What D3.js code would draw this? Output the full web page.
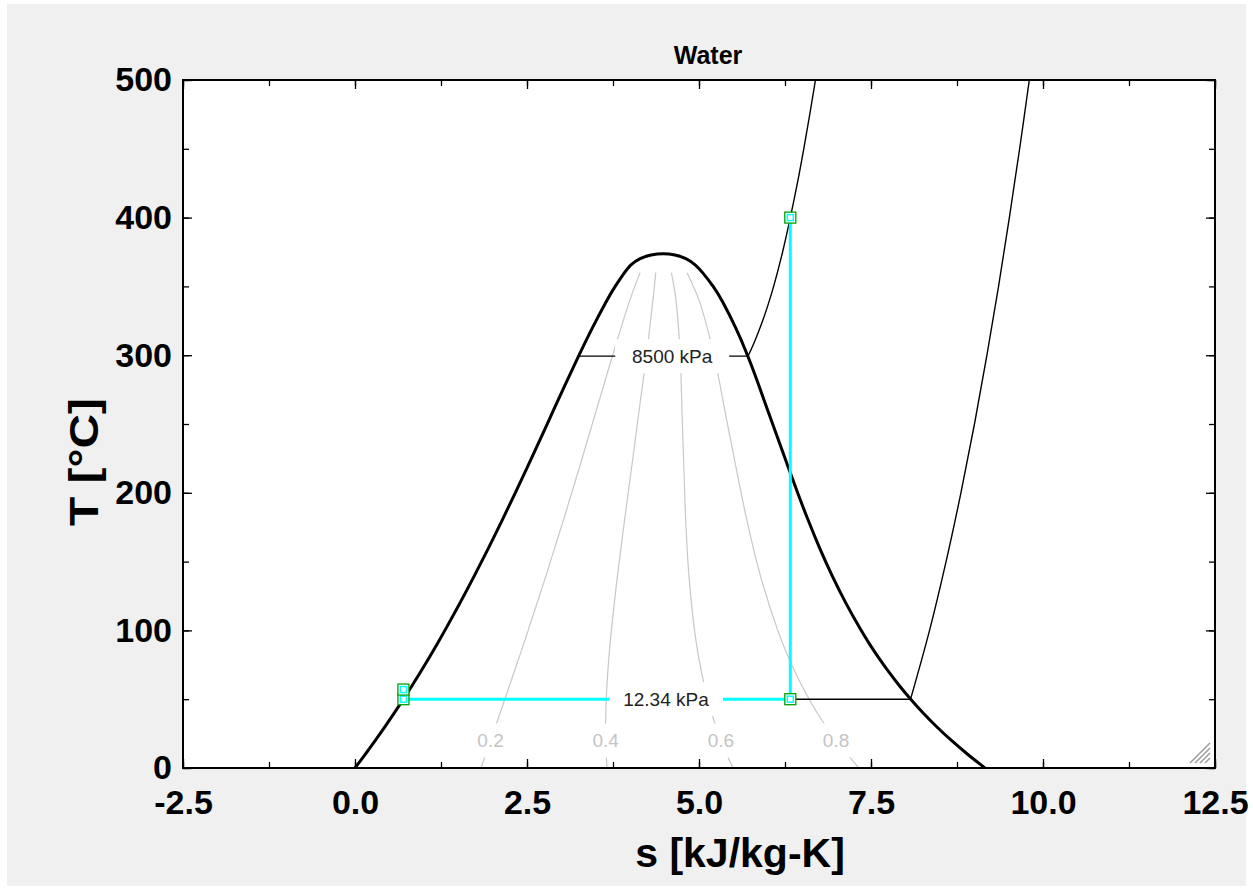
<!DOCTYPE html>
<html>
<head>
<meta charset="utf-8">
<script src="https://cdn.jsdelivr.net/npm/d3@7"></script>
<style>
  html, body { margin: 0; padding: 0; background: #fff; }
  svg { display: block; font-family: "Liberation Sans", Arial, sans-serif; }
</style>
</head>
<body>
<div id="chart"></div>
<script>
// saturation dome of water (T in C, s in kJ/kg-K)
const satT  = [0.01, 10, 20, 30, 40, 50, 60, 70, 80, 90, 100, 120, 140, 160, 180, 200, 220, 240, 260, 280, 300, 320, 340, 350, 360, 365.6, 370.6, 373.1, 373.95];
const satSf = [0, 0.1511, 0.2965, 0.4368, 0.5724, 0.7038, 0.8313, 0.9551, 1.0756, 1.1929, 1.3072, 1.5279, 1.7392, 1.9426, 2.1392, 2.3305, 2.5177, 2.7020, 2.8849, 3.0685, 3.2552, 3.4494, 3.6601, 3.7784, 3.9167, 3.997, 4.142, 4.302, 4.48];
const satSg = [9.1556, 8.8998, 8.6660, 8.4520, 8.2555, 8.0748, 7.9081, 7.7540, 7.6111, 7.4781, 7.3541, 7.1291, 6.9293, 6.7498, 6.5857, 6.4323, 6.2861, 6.1430, 5.9975, 5.8571, 5.7081, 5.5372, 5.3356, 5.2110, 5.0536, 4.956, 4.811, 4.651, 4.48];

// lines of constant quality
const qualNames = ["0.2", "0.4", "0.6", "0.8"];
const qualT  = [0.01, 20, 40, 60, 80, 100, 140, 180, 220, 260, 300, 340, 360];
const qual02 = [1.8311, 1.9704, 2.1090, 2.2467, 2.3827, 2.5166, 2.7772, 3.0285, 3.2714, 3.5074, 3.7458, 3.9952, 4.1441];
const qual04 = [3.6622, 3.6443, 3.6456, 3.6620, 3.6898, 3.7260, 3.8152, 3.9178, 4.0251, 4.1299, 4.2364, 4.3303, 4.3715];
const qual06 = [5.4934, 5.3182, 5.1823, 5.0774, 4.9969, 4.9353, 4.8533, 4.8071, 4.7787, 4.7525, 4.7269, 4.6654, 4.5988];
const qual08 = [7.3245, 6.9921, 6.7189, 6.4927, 6.3040, 6.1447, 5.8913, 5.6964, 5.5324, 5.3750, 5.2175, 5.0005, 4.8262];
const qualLabelT = 20;
const qualLabelS = [1.9704, 3.6443, 5.3182, 6.9921];

// isobars
const isobarNames = ["8500 kPa", "12.34 kPa"];
const hpS = [3.247, 5.712, 5.809, 5.925, 6.009, 6.085, 6.215, 6.327, 6.43, 6.523, 6.61, 6.693, 6.77];
const hpT = [299.3, 299.3, 310, 325, 337.5, 350, 375, 400, 425, 450, 475, 500, 525];
const lpS = [0.7038, 8.075, 8.351, 8.591, 8.807, 9.004, 9.185, 9.354, 9.511, 9.66, 9.801, 9.87];
const lpT = [50, 50, 100, 150, 200, 250, 300, 350, 400, 450, 500, 525];
const isobarLabelS = [4.61, 4.52];
const isobarLabelT = [299.3, 50];

// Rankine cycle states
const cycleS = [6.327, 6.327, 0.7038, 0.7038];
const cycleT = [400, 50, 50, 57];

const xTicks = [-2.5, 0, 2.5, 5, 7.5, 10, 12.5];
const yTicks = [0, 100, 200, 300, 400, 500];

function chart() {
    const width = 1253, height = 891;
    const left = 183, right = 1215, top = 80, bottom = 768;

    const x = d3.scaleLinear().domain([-2.5, 12.5]).range([left, right]);
    const y = d3.scaleLinear().domain([0, 500]).range([bottom, top]);

    const svg = d3.create("svg")
        .attr("width", width)
        .attr("height", height)
        .attr("viewBox", [0, 0, width, height]);

    // panel
    svg.append("rect").attr("x", 7).attr("y", 4).attr("width", 1239).attr("height", 882).attr("fill", "#f0f0f0");
    svg.append("rect").attr("x", left).attr("y", top).attr("width", right - left).attr("height", bottom - top).attr("fill", "#fff");

    svg.append("clipPath").attr("id", "plot")
        .append("rect").attr("x", left).attr("y", top).attr("width", right - left).attr("height", bottom - top);

    const g = svg.append("g").attr("clip-path", "url(#plot)");

    const line = d3.line().x(d => x(d[0])).y(d => y(d[1])).curve(d3.curveCatmullRom);
    const straight = d3.line().x(d => x(d[0])).y(d => y(d[1]));

    // quality lines
    [qual02, qual04, qual06, qual08].forEach(qs => {
        g.append("path")
            .attr("d", line(qs.map((s, i) => [s, qualT[i]])))
            .attr("fill", "none")
            .attr("stroke", "#c8c8c8")
            .attr("stroke-width", 1.2);
    });

    // isobars: straight inside the dome, curved in the superheated region
    const hp = hpS.map((s, i) => [s, hpT[i]]);
    const lp = lpS.map((s, i) => [s, lpT[i]]);
    [hp, lp].forEach(pts => {
        g.append("path")
            .attr("d", straight(pts.slice(0, 2)) + line(pts.slice(1)).replace(/^M/, "L"))
            .attr("fill", "none")
            .attr("stroke", "#000")
            .attr("stroke-width", 1.4);
    });

    // saturation dome
    const dome = satT.map((t, i) => [satSf[i], t])
        .concat(satT.slice(0, -1).map((t, i) => [satSg[i], t]).reverse());
    g.append("path")
        .attr("d", d3.line().x(d => x(d[0])).y(d => y(d[1])).curve(d3.curveBasis)(dome))
        .attr("fill", "none")
        .attr("stroke", "#000")
        .attr("stroke-width", 3)
        .attr("stroke-linejoin", "round");

    // cycle
    const cyc = cycleS.map((s, i) => [s, cycleT[i]]);
    g.append("path")
        .attr("d", straight(cyc))
        .attr("fill", "none")
        .attr("stroke", "#00ffff")
        .attr("stroke-width", 3);

    // quality labels
    qualNames.forEach((name, i) => {
        const cx = x(qualLabelS[i]), cy = y(qualLabelT);
        g.append("rect").attr("x", cx - 15).attr("y", cy - 17).attr("width", 30).attr("height", 34).attr("fill", "#fff");
        g.append("text").attr("x", cx).attr("y", cy).attr("dy", "0.35em")
            .attr("text-anchor", "middle").attr("font-size", 19).attr("fill", "#c4c4c4")
            .text(name);
    });

    // isobar labels
    isobarNames.forEach((name, i) => {
        const cx = x(isobarLabelS[i]), cy = y(isobarLabelT[i]);
        g.append("rect").attr("x", cx - 57).attr("y", cy - 17).attr("width", 114).attr("height", 34).attr("fill", "#fff");
        g.append("text").attr("x", cx).attr("y", cy).attr("dy", "0.35em")
            .attr("text-anchor", "middle").attr("font-size", 19).attr("fill", "#222")
            .text(name);
    });

    // state markers
    const mk = g.append("g").selectAll("g").data(cyc).join("g")
        .attr("transform", d => `translate(${x(d[0])},${y(d[1])})`);
    mk.append("rect").attr("x", -5.5).attr("y", -5.5).attr("width", 11).attr("height", 11)
        .attr("fill", "#fff").attr("stroke", "#00a000").attr("stroke-width", 1.3);
    mk.append("rect").attr("x", -3).attr("y", -3).attr("width", 6).attr("height", 6)
        .attr("fill", "none").attr("stroke", "#00ffff").attr("stroke-width", 1.5);

    // axes
    const fmtX = d => d3.format(".1f")(d).replace("\u2212", "-");
    const xMinor = d3.range(-2.5, 12.6, 1.25);
    const yMinor = d3.range(0, 501, 50);

    const styleAxis = sel => {
        sel.select(".domain").remove();
        sel.selectAll("line").attr("stroke", "#000").attr("stroke-width", 1.3);
        sel.selectAll("text").attr("fill", "#000").attr("font-weight", "bold").attr("font-size", 34)
            .attr("font-family", "'Liberation Sans', Arial, sans-serif");
    };

    svg.append("g").attr("transform", `translate(0,${bottom})`)
        .call(d3.axisBottom(x).tickValues(xMinor).tickSize(-6).tickFormat("")).call(styleAxis);
    svg.append("g").attr("transform", `translate(0,${bottom})`)
        .call(d3.axisBottom(x).tickValues(xTicks).tickSizeInner(-9).tickSizeOuter(0).tickPadding(22).tickFormat(fmtX)).call(styleAxis);
    svg.append("g").attr("transform", `translate(0,${top})`)
        .call(d3.axisTop(x).tickValues(xMinor).tickSize(-6).tickFormat("")).call(styleAxis);
    svg.append("g").attr("transform", `translate(0,${top})`)
        .call(d3.axisTop(x).tickValues(xTicks).tickSize(-9).tickFormat("")).call(styleAxis);

    svg.append("g").attr("transform", `translate(${left},0)`)
        .call(d3.axisLeft(y).tickValues(yMinor).tickSize(-6).tickFormat("")).call(styleAxis);
    svg.append("g").attr("transform", `translate(${left},0)`)
        .call(d3.axisLeft(y).tickValues(yTicks).tickSizeInner(-9).tickSizeOuter(0).tickPadding(11)).call(styleAxis);
    svg.append("g").attr("transform", `translate(${right},0)`)
        .call(d3.axisRight(y).tickValues(yMinor).tickSize(-6).tickFormat("")).call(styleAxis);
    svg.append("g").attr("transform", `translate(${right},0)`)
        .call(d3.axisRight(y).tickValues(yTicks).tickSize(-9).tickFormat("")).call(styleAxis);

    // frame
    svg.append("rect").attr("x", left).attr("y", top).attr("width", right - left).attr("height", bottom - top)
        .attr("fill", "none").attr("stroke", "#000").attr("stroke-width", 2);

    // resize grip
    const grip = svg.append("g").attr("stroke", "#999").attr("stroke-width", 1.5);
    [0, 5, 10, 15].forEach(o => {
        grip.append("line").attr("x1", 1190 + o).attr("y1", 763).attr("x2", 1210).attr("y2", 743 + o);
    });

    // titles
    svg.append("text").attr("x", 708).attr("y", 64).attr("text-anchor", "middle")
        .attr("font-weight", "bold").attr("font-size", 25).text("Water");
    svg.append("text").attr("x", 740).attr("y", 867).attr("text-anchor", "middle")
        .attr("font-weight", "bold").attr("font-size", 41).text("s [kJ/kg-K]");
    svg.append("text").attr("transform", "translate(98,462) rotate(-90)").attr("text-anchor", "middle")
        .attr("font-weight", "bold").attr("font-size", 41)
        .attr("textLength", 128).attr("lengthAdjust", "spacingAndGlyphs").text("T [°C]");

    return svg.node();
}

document.getElementById("chart").appendChild(chart());
</script>
</body>
</html>
